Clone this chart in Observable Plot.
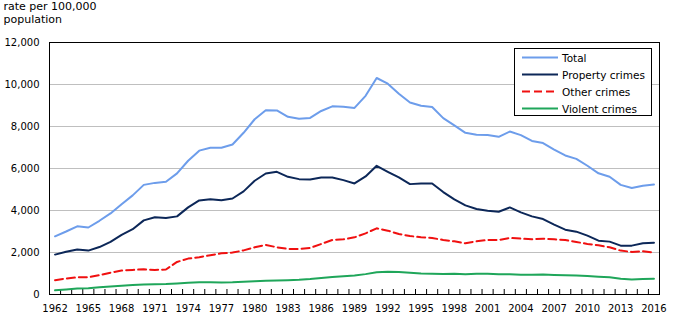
<!DOCTYPE html>
<html>
<head>
<meta charset="utf-8">
<script src="https://cdn.jsdelivr.net/npm/d3@7"></script>
<script src="https://cdn.jsdelivr.net/npm/@observablehq/plot@0.6"></script>
<style>
  body { margin: 0; background: #fff; }
  #wrap { position: relative; width: 675px; height: 321px; font-family: "DejaVu Sans", Verdana, sans-serif; color: #000; }
  #title { position: absolute; left: 3.5px; top: 0px; font-size: 11px; line-height: 13px; }
  #legend { position: absolute; left: 514px; top: 48px; width: 136px; height: 66px; border: 1px solid #000; background: #fff; font-size: 10.5px; }
  .row { position: absolute; left: 0; height: 17px; display: flex; align-items: center; white-space: nowrap; }
  .row svg { margin-left: 7px; margin-right: 4px; }
</style>
</head>
<body>
<div id="wrap">
  <div id="chart"></div>
  <div id="title">rate per 100,000<br>population</div>
  <div id="legend"></div>
</div>
<script>
const years = d3.range(1962, 2017);
const seriesNames = ["Total", "Property crimes", "Other crimes", "Violent crimes"];
const seriesColors = ["#6d9deb", "#0c2758", "#f01010", "#1fa65a"];
const seriesDash = [null, null, "8,4", null];

const total = [
  2770, 3000, 3245, 3190, 3510, 3860, 4300, 4720, 5220, 5315,
  5370, 5770, 6370, 6850, 6990, 6990, 7140, 7700, 8345, 8770,
  8765, 8460, 8370, 8410, 8740, 8960, 8940, 8885, 9460, 10310,
  10040, 9560, 9140, 8990, 8930, 8400, 8050, 7700, 7610, 7600,
  7510, 7760, 7590, 7310, 7210, 6900, 6620, 6460, 6130, 5770,
  5610, 5220, 5070, 5180, 5240
];
const property = [
  1900, 2040, 2145, 2090, 2260, 2510, 2840, 3110, 3530, 3680,
  3640, 3720, 4150, 4480, 4540, 4490, 4570, 4910, 5415, 5763,
  5843, 5605, 5494, 5478, 5573, 5573, 5446, 5288, 5621, 6127,
  5843, 5573, 5256, 5288, 5288, 4877, 4528, 4243, 4070, 3990,
  3942, 4148, 3911, 3721, 3594, 3325, 3087, 2992, 2802, 2565,
  2518, 2327, 2327, 2438, 2470
];
const other = [
  680, 760, 820, 825, 920, 1040, 1140, 1170, 1200, 1170,
  1190, 1550, 1710, 1775, 1870, 1960, 1995, 2100, 2248, 2360,
  2248, 2170, 2170, 2217, 2407, 2597, 2628, 2723, 2913, 3150,
  3040, 2882, 2787, 2723, 2692, 2597, 2533, 2438, 2533, 2597,
  2597, 2692, 2660, 2628, 2660, 2628, 2597, 2502, 2407, 2343,
  2248, 2090, 2027, 2059, 1995
];
const violent = [
  200, 240, 280, 300, 345, 380, 420, 450, 480, 490,
  500, 525, 555, 585, 585, 575, 580, 610, 635, 655,
  670, 680, 700, 735, 785, 830, 870, 910, 970, 1055,
  1080, 1075, 1040, 1000, 990, 980, 985, 960, 985, 985,
  965, 965, 945, 940, 950, 930, 915, 905, 885, 850,
  825, 745, 720, 740, 745
];
const yTicks = [0, 2000, 4000, 6000, 8000, 10000, 12000];
const xLabels = d3.range(1962, 2017, 3);
const xTickMarks = d3.range(1962.5, 2016, 1);

const allSeries = [total, property, other, violent];
const rows = allSeries.flatMap((vals, s) => years.map((yr, i) => ({year: yr, value: vals[i], series: seriesNames[s]})));

const lineMarks = seriesNames.map((name, s) =>
  Plot.line(rows.filter(d => d.series === name), {
    x: "year", y: "value",
    stroke: seriesColors[s], strokeWidth: 2,
    strokeDasharray: seriesDash[s] || undefined,
    strokeLinejoin: "round"
  })
);

const chart = Plot.plot({
  width: 675,
  height: 321,
  marginLeft: 49,
  marginRight: 16,
  marginTop: 42,
  marginBottom: 27,
  style: {fontFamily: "DejaVu Sans, Verdana, sans-serif", fontSize: "10px", color: "#000", background: "#fff"},
  x: {domain: [1961.5, 2016.5]},
  y: {domain: [0, 12000]},
  marks: [
    Plot.gridY(yTicks.filter(t => t > 0 && t < 12000), {stroke: "#bfbfbf", strokeOpacity: 1}),
    Plot.axisY(yTicks, {tickSize: 0, tickPadding: 10, tickFormat: d3.format(","), label: null}),
    Plot.axisX(xTickMarks, {tickSize: 5, dy: -5, stroke: "#000", tickFormat: () => "", label: null}),
    Plot.axisX(xLabels, {tickSize: 0, tickPadding: 10, tickFormat: d => String(d), label: null}),
    ...lineMarks,
    Plot.frame({stroke: "#000"})
  ]
});
document.getElementById("chart").appendChild(chart);

// legend
const legend = document.getElementById("legend");
seriesNames.forEach((name, s) => {
  const row = document.createElement("div");
  row.className = "row";
  row.style.top = (s * 17.1) + "px";
  const dash = seriesDash[s] ? ` stroke-dasharray="${seriesDash[s]}"` : "";
  row.innerHTML = `<svg width="36" height="17"><line x1="0" x2="36" y1="8.5" y2="8.5" stroke="${seriesColors[s]}" stroke-width="2"${dash}/></svg><span>${name}</span>`;
  legend.appendChild(row);
});
</script>
</body>
</html>
